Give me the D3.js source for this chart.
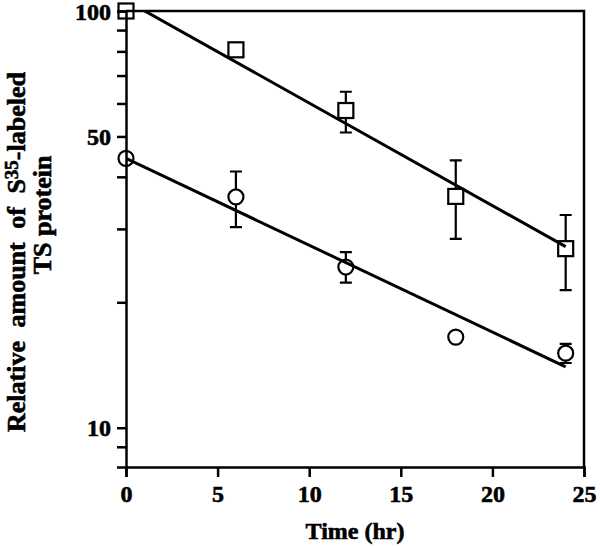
<!DOCTYPE html>
<html>
<head>
<meta charset="utf-8">
<script src="https://cdn.jsdelivr.net/npm/d3@7"></script>
<style>
  body { margin: 0; background: #fff; }
  svg text { font-family: "Liberation Serif", "Times New Roman", serif; font-weight: bold; fill: #000; stroke: #000; stroke-width: 0.6px; }
</style>
</head>
<body>
<div id="chart"></div>
<script>
// values
const times = [0, 6, 12, 18, 24];
const squareValues = [100, 80.7, 57.7, 35.9, 26.9];
const squareLow = [null, null, 51.1, 28.4, 21.4];
const squareHigh = [null, null, 64.0, 43.8, 32.4];
const circleValues = [44.3, 35.8, 24.3, 16.5, 15.1];
const circleLow = [null, 30.3, 22.3, null, 14.3];
const circleHigh = [null, 41.2, 26.4, null, 15.9];
// fitted lines (end points)
const fitTimes = [0, 24];
const squareFit = [106, 27.2];
const circleFit = [44.3, 14.0];
// ticks
const xTicks = [0, 5, 10, 15, 20, 25];
const yTicks = [9, 10, 20, 30, 40, 50, 60, 70, 80, 90, 100];
const yTickLabels = [10, 50, 100];

const width = 600, height = 548;
const plotLeft = 126, plotRight = 584, plotTop = 11, plotBottom = 467;
const markerHalf = 7.5;

const svg = d3.select('#chart').append('svg')
  .attr('width', width)
  .attr('height', height);

const x = d3.scaleLinear().domain([0, 25]).range([plotLeft, plotRight]);
const y = d3.scaleLog().domain([8.05, 100]).range([plotBottom, plotTop]);

svg.append('defs').append('clipPath').attr('id', 'plotClip')
  .append('rect')
  .attr('x', plotLeft).attr('y', plotTop)
  .attr('width', plotRight - plotLeft).attr('height', plotBottom - plotTop);

// frame (top and right)
svg.append('path')
  .attr('d', `M${plotLeft},${plotTop}H${plotRight}V${plotBottom}`)
  .attr('fill', 'none')
  .attr('stroke', '#000')
  .attr('stroke-width', 2.5);

// x axis
const xAxis = svg.append('g')
  .attr('transform', `translate(0,${plotBottom})`)
  .call(d3.axisBottom(x).tickValues(xTicks).tickSize(10).tickSizeOuter(10).tickPadding(8));

// y axis
const yAxis = svg.append('g')
  .attr('transform', `translate(${plotLeft},0)`)
  .call(d3.axisLeft(y).tickValues(yTicks).tickSize(9).tickSizeOuter(9).tickPadding(6)
    .tickFormat(d => yTickLabels.includes(d) ? d : ''));

[xAxis, yAxis].forEach(g => {
  g.select('.domain').attr('stroke-width', 2.5);
  g.selectAll('.tick line').attr('stroke-width', 2.5);
  g.selectAll('.tick text')
    .style('font-size', '24px')
    .style('font-family', '"Liberation Serif", serif')
    .style('font-weight', 'bold');
});
yAxis.selectAll('.tick text').attr('dy', '0.34em');

// axis titles
svg.append('text')
  .attr('x', (plotLeft + plotRight) / 2)
  .attr('y', 539)
  .attr('text-anchor', 'middle')
  .style('font-size', '24px')
  .text('Time (hr)');

const yTitle1 = svg.append('text')
  .attr('transform', 'translate(25,252) rotate(-90)')
  .attr('text-anchor', 'middle')
  .style('font-size', '26px')
  .style('word-spacing', '7px');
yTitle1.append('tspan').text('Relative amount of S');
yTitle1.append('tspan').attr('dy', -7).style('font-size', '19px').text('35');
yTitle1.append('tspan').attr('dy', 7).text('-labeled');

svg.append('text')
  .attr('transform', 'translate(51,215) rotate(-90)')
  .attr('text-anchor', 'middle')
  .style('font-size', '26px')
  .text('TS protein');

// fitted lines
const plot = svg.append('g').attr('clip-path', 'url(#plotClip)');
const line = d3.line().x(d => x(d[0])).y(d => y(d[1]));
[squareFit, circleFit].forEach(fit => {
  plot.append('path')
    .datum(fitTimes.map((t, i) => [t, fit[i]]))
    .attr('d', line)
    .attr('fill', 'none')
    .attr('stroke', '#000')
    .attr('stroke-width', 3);
});

// error bars (drawn outside the marker)
function errorBars(values, low, high) {
  const g = svg.append('g').attr('stroke', '#000').attr('stroke-width', 2.2).attr('fill', 'none');
  times.forEach((t, i) => {
    if (low[i] == null) return;
    const cx = x(t), cy = y(values[i]);
    const yh = y(high[i]), yl = y(low[i]);
    g.append('path').attr('d', `M${cx},${yh}V${cy - markerHalf}M${cx},${cy + markerHalf}V${yl}`);
    g.append('path').attr('d', `M${cx - 6},${yh}H${cx + 6}M${cx - 6},${yl}H${cx + 6}`);
  });
}
errorBars(squareValues, squareLow, squareHigh);
errorBars(circleValues, circleLow, circleHigh);

// markers
svg.append('g').selectAll('rect')
  .data(times.map((t, i) => [t, squareValues[i]]))
  .join('rect')
  .attr('x', d => x(d[0]) - markerHalf)
  .attr('y', d => y(d[1]) - markerHalf)
  .attr('width', markerHalf * 2)
  .attr('height', markerHalf * 2)
  .attr('fill', 'none')
  .attr('stroke', '#000')
  .attr('stroke-width', 2.2);

svg.append('g').selectAll('circle')
  .data(times.map((t, i) => [t, circleValues[i]]))
  .join('circle')
  .attr('cx', d => x(d[0]))
  .attr('cy', d => y(d[1]))
  .attr('r', markerHalf)
  .attr('fill', 'none')
  .attr('stroke', '#000')
  .attr('stroke-width', 2.2);
</script>
</body>
</html>
